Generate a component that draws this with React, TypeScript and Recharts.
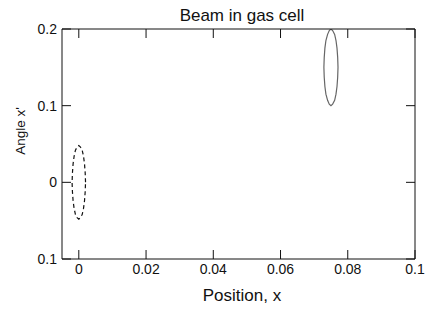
import { LineChart, Line, XAxis, YAxis } from "recharts";

// Beam phase-space ellipses (position x, angle x')
const entryBeamX = [
    0.002, 0.0019, 0.0017, 0.0014, 0.001, 0.0005, 0.0, -0.0005, -0.001, -0.0014, -0.0017, -0.0019,
    -0.002, -0.0019, -0.0017, -0.0014, -0.001, -0.0005, 0.0, 0.0005, 0.001, 0.0014, 0.0017, 0.0019, 0.002,
];
const entryBeamY = [
    0.0, 0.012, 0.024, 0.034, 0.042, 0.046, 0.048, 0.046, 0.042, 0.034, 0.024, 0.012,
    0.0, -0.012, -0.024, -0.034, -0.042, -0.046, -0.048, -0.046, -0.042, -0.034, -0.024, -0.012, 0.0,
];
const exitBeamX = [
    0.0771, 0.077, 0.0768, 0.0765, 0.0761, 0.0755, 0.075, 0.0745, 0.074, 0.0735, 0.0732, 0.073,
    0.0729, 0.073, 0.0732, 0.0735, 0.074, 0.0745, 0.075, 0.0755, 0.0761, 0.0765, 0.0768, 0.077, 0.0771,
];
const exitBeamY = [
    0.15, 0.163, 0.175, 0.185, 0.193, 0.198, 0.2, 0.198, 0.193, 0.185, 0.175, 0.163,
    0.15, 0.137, 0.125, 0.115, 0.107, 0.102, 0.1, 0.102, 0.107, 0.115, 0.125, 0.137, 0.15,
];

const xTicks = [0, 0.02, 0.04, 0.06, 0.08, 0.1];
const xTickLabels = ["0", "0.02", "0.04", "0.06", "0.08", "0.1"];
const yTicks = [-0.1, 0, 0.1, 0.2];
const yTickLabels = ["0.1", "0", "0.1", "0.2"];

const FONT = "'Liberation Sans', Arial, Helvetica, sans-serif";

const zip = (xs: number[], ys: number[]) => xs.map((x, i) => ({ x, y: ys[i] }));

export default function App() {
    const entry = zip(entryBeamX, entryBeamY);
    const exit = zip(exitBeamX, exitBeamY);

    const tickStyle = { fill: "#111", fontSize: 14, fontFamily: FONT };
    const axisLine = { stroke: "#111", strokeWidth: 1 };
    const tickLine = { stroke: "#111", strokeWidth: 1 };

    // plot box: x 62..415, y 29..259
    return (
        <div style={{ position: "absolute", left: 0, top: 0, width: 425, height: 311, background: "#fff" }}>
            <LineChart width={425} height={311} margin={{ top: 28, right: 9, bottom: 22, left: 22 }}>
                <XAxis
                    xAxisId={0}
                    dataKey="x"
                    type="number"
                    domain={[-0.005, 0.1]}
                    ticks={xTicks}
                    tickFormatter={(_v: number, i: number) => xTickLabels[i]}
                    interval={0}
                    allowDataOverflow
                    height={30}
                    tickSize={-9}
                    tickMargin={14}
                    tick={tickStyle}
                    axisLine={axisLine}
                    tickLine={tickLine}
                />
                <XAxis
                    xAxisId="top"
                    orientation="top"
                    dataKey="x"
                    type="number"
                    domain={[-0.005, 0.1]}
                    ticks={xTicks}
                    tickFormatter={() => ""}
                    interval={0}
                    allowDataOverflow
                    height={1}
                    tickSize={-9}
                    axisLine={axisLine}
                    tickLine={tickLine}
                />
                <YAxis
                    yAxisId={0}
                    type="number"
                    domain={[-0.1, 0.2]}
                    ticks={yTicks}
                    tickFormatter={(_v: number, i: number) => yTickLabels[i]}
                    interval={0}
                    allowDataOverflow
                    width={40}
                    tickSize={-9}
                    tickMargin={14}
                    tick={tickStyle}
                    axisLine={axisLine}
                    tickLine={tickLine}
                />
                <YAxis
                    yAxisId="right"
                    orientation="right"
                    type="number"
                    domain={[-0.1, 0.2]}
                    ticks={yTicks}
                    tickFormatter={() => ""}
                    interval={0}
                    allowDataOverflow
                    width={1}
                    tickSize={-9}
                    axisLine={axisLine}
                    tickLine={tickLine}
                />
                <Line
                    data={entry}
                    dataKey="y"
                    type="linear"
                    stroke="#111"
                    strokeWidth={1.2}
                    strokeDasharray="4 3"
                    dot={false}
                    activeDot={false}
                    isAnimationActive={false}
                />
                <Line
                    data={exit}
                    dataKey="y"
                    type="linear"
                    stroke="#666"
                    strokeWidth={1.2}
                    dot={false}
                    activeDot={false}
                    isAnimationActive={false}
                />
                <text x={242} y={21} textAnchor="middle" fontSize={17} fontFamily={FONT} fill="#111">
                    Beam in gas cell
                </text>
                <text x={242} y={301} textAnchor="middle" fontSize={17} fontFamily={FONT} fill="#111">
                    Position, x
                </text>
                <text
                    x={25}
                    y={131}
                    transform="rotate(-90 25 131)"
                    textAnchor="middle"
                    fontSize={13.5}
                    fontFamily={FONT}
                    fill="#111"
                >
                    Angle x'
                </text>
            </LineChart>
        </div>
    );
}
